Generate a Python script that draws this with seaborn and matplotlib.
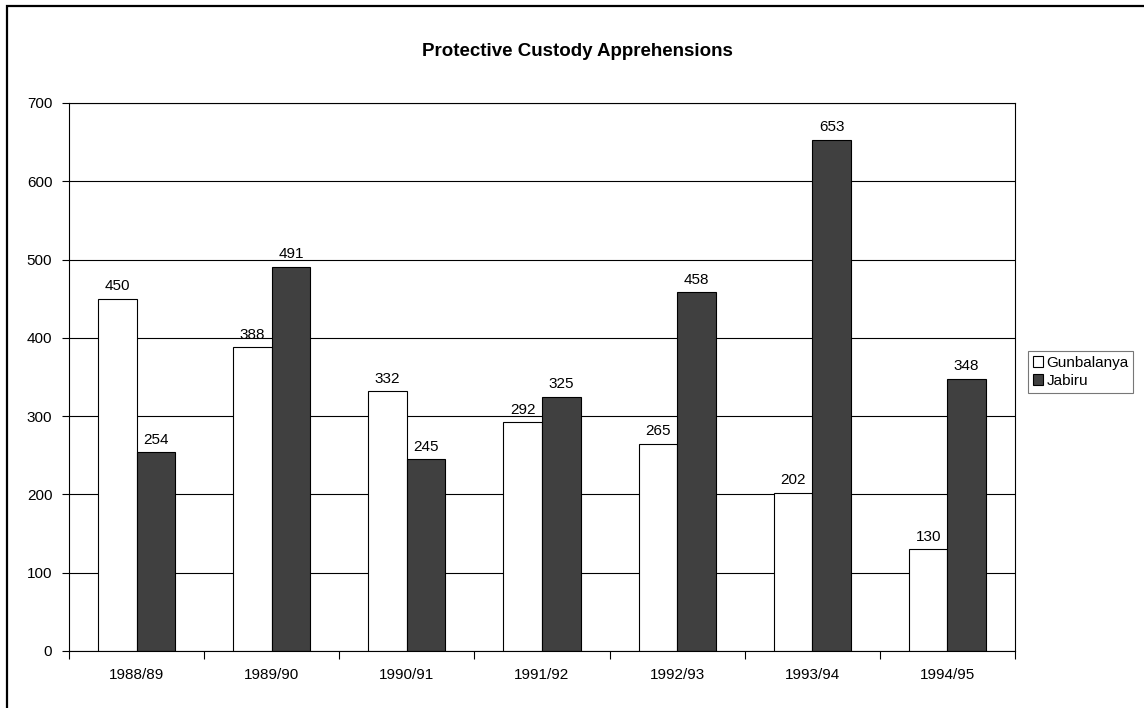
import matplotlib
matplotlib.use("Agg")
import matplotlib.pyplot as plt
import seaborn as sns
import pandas as pd
from matplotlib.patches import Rectangle

years = ["1988/89", "1989/90", "1990/91", "1991/92", "1992/93", "1993/94", "1994/95"]
gunbalanya = [450, 388, 332, 292, 265, 202, 130]
jabiru = [254, 491, 245, 325, 458, 653, 348]
series_names = ["Gunbalanya", "Jabiru"]
title = "Protective Custody Apprehensions"
yticks = [0, 100, 200, 300, 400, 500, 600, 700]

df = pd.DataFrame({
    "year": years * 2,
    "value": gunbalanya + jabiru,
    "series": [series_names[0]] * len(years) + [series_names[1]] * len(years),
})

sns.set_theme(style="white")
plt.rcParams["font.family"] = ["Liberation Sans", "DejaVu Sans"]
plt.rcParams["text.color"] = "black"

fig = plt.figure(figsize=(11.44, 7.08), dpi=100)
ax = fig.add_axes([69 / 1144, 1 - 651 / 708, (1015 - 69) / 1144, (651 - 103) / 708])

sns.barplot(data=df, x="year", y="value", hue="series", order=years,
            hue_order=series_names, palette=["white", "#404040"],
            width=0.57, edgecolor="black", linewidth=0.8, ax=ax, legend=True)

for cont in ax.containers:
    ax.bar_label(cont, padding=4, fontsize=11, color="black")

ax.set_ylim(0, 700)
ax.set_xlim(-0.5, len(years) - 0.5)
ax.set_yticks(yticks)
ax.yaxis.grid(True, color="black", linewidth=0.8)
ax.set_axisbelow(True)
ax.set_xlabel("")
ax.set_ylabel("")

ax.set_xticks(range(len(years)))
ax.set_xticklabels(years)
ax.set_xticks([i - 0.5 for i in range(len(years) + 1)], minor=True)
ax.tick_params(axis="x", which="major", length=0, pad=12, labelsize=11, colors="black")
ax.tick_params(axis="x", which="minor", length=6, width=0.8, direction="out", color="black", bottom=True)
ax.tick_params(axis="y", which="major", length=5, width=0.8, direction="out", pad=7,
               labelsize=11, colors="black", left=True)

for s in ax.spines.values():
    s.set_color("black")
    s.set_linewidth(0.8)

ax.set_title(title, fontsize=13.5, fontweight="bold", color="black", pad=34,
             x=(577 - 69) / (1015 - 69))

leg = ax.legend(loc="upper left", bbox_to_anchor=(1028 / 1144, 1 - 351 / 708),
                bbox_transform=fig.transFigure, frameon=True, fancybox=False,
                fontsize=11, handlelength=0.7, handleheight=0.7, handletextpad=0.2,
                borderpad=0.3, labelspacing=0.3, borderaxespad=0)
leg.get_frame().set_edgecolor("#555555")
leg.get_frame().set_linewidth(0.8)
for t in leg.get_texts():
    t.set_color("black")
for h in leg.legend_handles:
    h.set_edgecolor("black")
    h.set_linewidth(0.8)

fig.patches.append(Rectangle((7 / 1144, -0.1), 1.2, 1.1 - 6 / 708, transform=fig.transFigure,
                             fill=False, edgecolor="black", linewidth=1.6, zorder=-1))

fig.savefig("out.png", dpi=100)
